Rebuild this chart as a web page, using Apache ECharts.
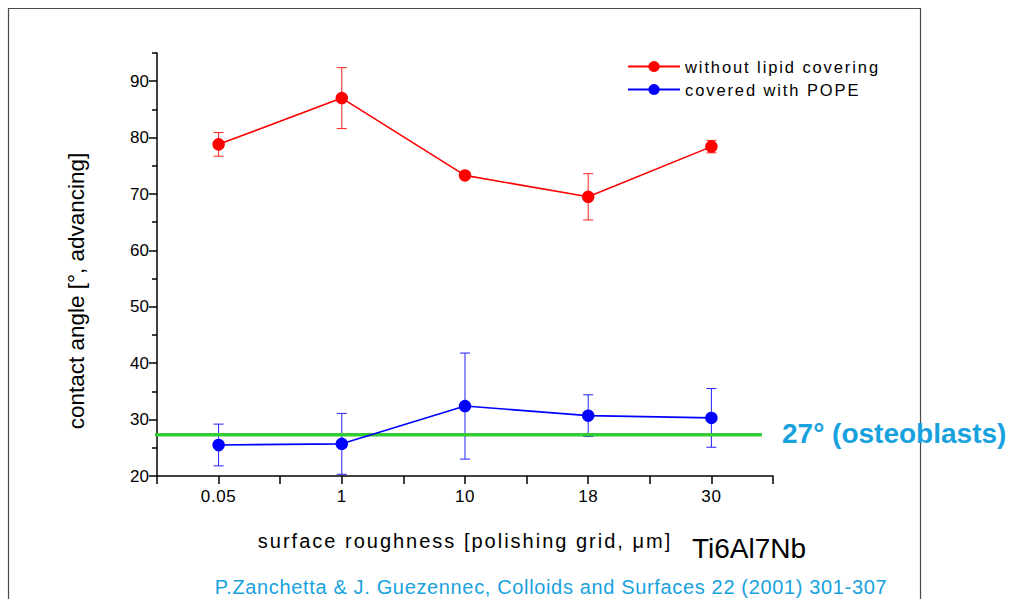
<!DOCTYPE html>
<html><head><meta charset="utf-8">
<script src="https://cdn.jsdelivr.net/npm/echarts@6/dist/echarts.min.js"></script>
<style>
html,body{margin:0;padding:0;background:#fff}
#c{width:1011px;height:599px}
text[style*="lsLegend"]{letter-spacing:1.9px}
text[style*="lsTitle"]{letter-spacing:2px}
text[style*="lsTick"]{letter-spacing:0.6px}
text[style*="lsCite"]{letter-spacing:0.65px}
</style></head><body><div id="c"></div>
<script>
// ---- data ----
const categories = ['0.05', '1', '10', '18', '30'];
const withoutLipid = [78.8, 87.0, 73.3, 69.5, 78.4];
const withoutLipidErr = [2.1, 5.4, 0.4, 4.1, 1.1];
const coveredPOPE = [25.5, 25.7, 32.4, 30.7, 30.3];
const coveredPOPEErr = [3.7, 5.4, 9.4, 3.7, 5.2];
const yTicks = [20, 30, 40, 50, 60, 70, 80, 90];
const yMinorTicks = [25, 35, 45, 55, 65, 75, 85, 95];
const refValue = 27.3;
const refSpan = [-0.55, 4.41];
const seriesNames = ['without lipid covering', 'covered with POPE'];

const FONT = 'Liberation Sans';
const chart = echarts.init(document.getElementById('c'), null, {renderer: 'svg'});

function errorSeries(vals, errs, color) {
  return {
    type: 'custom', silent: true, z: 1,
    data: vals.map((v, i) => [i, v - errs[i], v + errs[i]]),
    encode: {x: 0, y: [1, 2]},
    renderItem(params, api) {
      const x = api.value(0);
      const lo = api.coord([x, api.value(1)]);
      const hi = api.coord([x, api.value(2)]);
      const hw = 5;
      const st = {stroke: color, lineWidth: 1};
      return {type: 'group', children: [
        {type: 'line', shape: {x1: lo[0], y1: lo[1], x2: hi[0], y2: hi[1]}, style: st},
        {type: 'line', shape: {x1: lo[0] - hw, y1: lo[1], x2: lo[0] + hw, y2: lo[1]}, style: st},
        {type: 'line', shape: {x1: hi[0] - hw, y1: hi[1], x2: hi[0] + hw, y2: hi[1]}, style: st}
      ]};
    }
  };
}

function lineSeries(name, vals, color) {
  return {
    name, type: 'line', z: 3,
    data: vals.map((v, i) => [i, v]),
    symbol: 'circle', symbolSize: 12.5,
    itemStyle: {color},
    lineStyle: {color, width: 1.6},
    animation: false
  };
}

const axisBlack = {color: '#000', width: 1.5};

chart.setOption({
  animation: false,
  backgroundColor: '#fff',
  grid: {left: 157, top: 53, width: 616, height: 423},
  legend: {
    orient: 'vertical', left: 627, top: 58, padding: 0,
    itemWidth: 52, itemHeight: 14, itemGap: 6,
    data: seriesNames,
    textStyle: {fontSize: 16.5, lineHeight: 16, fontFamily: FONT + ', lsLegend', color: '#000'}
  },
  xAxis: {
    type: 'value', min: -0.5, max: 4.5, interval: 0.5,
    axisLine: {onZero: false, lineStyle: axisBlack},
    axisTick: {length: 8, lineStyle: axisBlack},
    splitLine: {show: false},
    axisLabel: {
      margin: 12, fontSize: 17, color: '#000', fontFamily: FONT + ', lsTick',
      formatter: v => Number.isInteger(v) ? categories[v] : ''
    }
  },
  yAxis: [{
    type: 'value', min: 20, max: 95, position: 'left',
    axisLine: {show: true, onZero: false, lineStyle: axisBlack},
    axisTick: {show: true, length: 8, lineStyle: axisBlack, customValues: yTicks},
    axisLabel: {margin: 8, fontSize: 17, color: '#000', fontFamily: FONT, customValues: yTicks},
    splitLine: {show: false}
  }, {
    type: 'value', min: 20, max: 95, position: 'left', offset: 0,
    axisLine: {show: false, onZero: false},
    axisTick: {show: true, length: 5, lineStyle: axisBlack, customValues: yMinorTicks},
    axisLabel: {show: false},
    splitLine: {show: false}
  }],
  series: [
    errorSeries(withoutLipid, withoutLipidErr, '#ff2020'),
    errorSeries(coveredPOPE, coveredPOPEErr, '#2020ff'),
    {
      type: 'line', z: 2, silent: true, clip: false,
      data: refSpan.map(x => [x, refValue]),
      symbol: 'none',
      lineStyle: {color: '#33cc33', width: 3.5}
    },
    lineSeries(seriesNames[0], withoutLipid, '#ff0000'),
    lineSeries(seriesNames[1], coveredPOPE, '#0000ff')
  ],
  graphic: [
    {type: 'rect', silent: true, z: -10, shape: {x: 8.5, y: 8.5, width: 912, height: 620},
     style: {fill: 'none', stroke: '#4a4a4a', lineWidth: 1.2}},
    {type: 'text', x: 76, y: 291, rotation: Math.PI / 2,
     style: {text: 'contact angle [°, advancing]', fontSize: 22.5, fontFamily: FONT, fill: '#000',
             align: 'center', verticalAlign: 'middle'}},
    {type: 'text', x: 465, y: 541,
     style: {text: 'surface roughness [polishing grid, μm]', fontSize: 20, fontFamily: FONT + ', lsTitle', fill: '#000',
             align: 'center', verticalAlign: 'middle'}},
    {type: 'text', x: 692, y: 548,
     style: {text: 'Ti6Al7Nb', fontSize: 28, fontFamily: FONT, fill: '#000',
             align: 'left', verticalAlign: 'middle'}},
    {type: 'text', x: 551, y: 587,
     style: {text: 'P.Zanchetta & J. Guezennec, Colloids and Surfaces 22 (2001) 301-307', fontSize: 20, fontFamily: FONT + ', lsCite', fill: '#17a2de',
             align: 'center', verticalAlign: 'middle'}},
    {type: 'text', x: 782, y: 433,
     style: {text: '27° (osteoblasts)', fontSize: 28, fontWeight: 'bold', fontFamily: FONT, fill: '#17a2de',
             align: 'left', verticalAlign: 'middle'}}
  ]
});
</script></body></html>
